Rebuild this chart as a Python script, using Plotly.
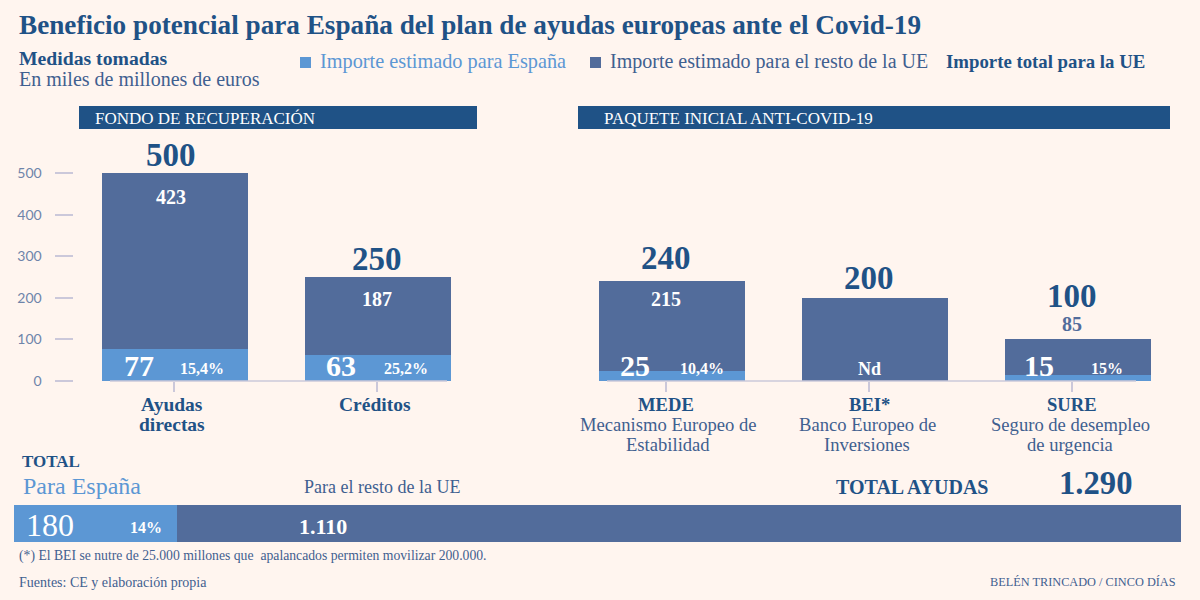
import plotly.graph_objects as go

# --- data ---
left_cats = ["Ayudas<br>directas", "Créditos"]
left_spain = [77, 63]
left_rest = [423, 187]
left_total = [500, 250]
left_pct = ["15,4%", "25,2%"]

right_keys = ["MEDE", "BEI*", "SURE"]
right_desc = ["Mecanismo Europeo de<br>Estabilidad", "Banco Europeo de<br>Inversiones", "Seguro de desempleo<br>de urgencia"]
right_spain = [25, 0, 15]
right_rest = [215, 200, 85]
right_total = [240, 200, 100]
right_pct = ["10,4%", "", "15%"]
right_rest_labels = ["215", "Nd", "85"]

total_spain = 180
total_rest = 1110
total_all = 1290
total_pct = "14%"
y_ticks = [0, 100, 200, 300, 400, 500]

# --- style ---
BG = "#fff5ef"
NAVY = "#1f5286"
MID = "#526c9b"
LIGHT = "#5c97d4"
TXT = "#3f6090"
TICK = "#cbc8da"
AXT = "#6e84aa"
F = "Liberation Serif"
PAPER_H = 592  # drawn paper height seen in the rendered page

def es(n):
    return f"{n:,}".replace(",", ".")

def px(x): return x / 1200
def py(y): return 1 - y / PAPER_H

fig = go.Figure()
for xa, ya, cats, sp, re in [("x", "y", left_cats, left_spain, left_rest),
                             ("x2", "y2", right_keys, right_spain, right_rest)]:
    fig.add_bar(x=cats, y=sp, xaxis=xa, yaxis=ya, marker=dict(color=LIGHT, line_width=0),
                name="Importe estimado para España", hoverinfo="x+y")
    fig.add_bar(x=cats, y=re, xaxis=xa, yaxis=ya, marker=dict(color=MID, line_width=0),
                name="Importe estimado para el resto de la UE", hoverinfo="x+y")
fig.add_bar(y=["Total"], x=[total_spain], orientation="h", xaxis="x3", yaxis="y3",
            marker=dict(color=LIGHT, line_width=0), name="Para España")
fig.add_bar(y=["Total"], x=[total_rest], orientation="h", xaxis="x3", yaxis="y3",
            marker=dict(color=MID, line_width=0), name="Para el resto de la UE")

ann = []
def text(t, x, y, size, color=TXT, bold=False, anchor="left"):
    ann.append(dict(text=f"<b>{t}</b>" if bold else t, x=px(x), y=py(y), xref="paper", yref="paper",
                    xanchor=anchor, yanchor="middle", showarrow=False,
                    font=dict(family=F, size=size, color=color)))

def val(t, xa, ya, cat, y, dx, dy, size, color="white", bold=False):
    ann.append(dict(text=f"<b>{t}</b>" if bold else t, x=cat, y=y, xref=xa, yref=ya, xshift=dx, yshift=dy,
                    xanchor="center", yanchor="middle", showarrow=False,
                    font=dict(family=F, size=size, color=color)))

# header texts
text("Beneficio potencial para España del plan de ayudas europeas ante el Covid-19", 17, 25, 27.2, NAVY, True)
text("Medidas tomadas", 17, 58, 19.7, NAVY, True)
text("En miles de millones de euros", 17, 79, 20, TXT)
text("Importe estimado para España", 318, 62, 20.3, LIGHT)
text("Importe estimado para el resto de la UE", 608, 61, 20, TXT)
text("Importe total para la UE", 944, 61, 18.8, NAVY, True)
text("FONDO DE RECUPERACIÓN", 93, 118, 17, "white")
text("PAQUETE INICIAL ANTI-COVID-19", 602, 118, 17, "white")

# data labels
for c, s, r, t, p, dx0, dxs, dxp, dyr in zip(left_cats, left_spain, left_rest, left_total, left_pct,
                                             [-4, -1], [-36, -37], [27, 28], [-24, -22]):
    val(t, "x", "y", c, t, dx0, 18, 33, NAVY, True)
    val(r, "x", "y", c, t, dx0, dyr, 20, "white", True)
    val(s, "x", "y", c, 0, dxs, 16, 30, "white", True)
    val(p, "x", "y", c, 0, dxp, 13, 16, "white", True)
for c, s, lab, t, p, dxs, dxp, dyt, dyr, col in zip(right_keys, right_spain, right_rest_labels, right_total, right_pct,
                                                     [-37, 0, -39], [30, 0, 29], [23, 20, 43], [-18, 0, 15],
                                                     ["white", "white", MID]):
    val(t, "x2", "y2", c, t, -6, dyt, 33, NAVY, True)
    if lab == "Nd":
        val(lab, "x2", "y2", c, 0, -6, 12, 18, col, True)
    else:
        val(lab, "x2", "y2", c, t, -6, dyr, 20, col, True)
    if s:
        val(s, "x2", "y2", c, 0, dxs, 16, 30, "white", True)
        val(p, "x2", "y2", c, 0, dxp, 13, 16, "white", True)

# category labels, one annotation per line for the tight line spacing
for c in left_cats:
    for i, line in enumerate(c.split("<br>")):
        ann.append(dict(text=f"<b>{line}</b>", x=c, y=0, xref="x", yref="y", xshift=-3, yshift=-23 - 20 * i,
                        xanchor="center", yanchor="middle", showarrow=False,
                        font=dict(family=F, size=19.5, color=NAVY)))
for k, d, dx in zip(right_keys, right_desc, [-4, -8, -8]):
    ann.append(dict(text=f"<b>{k}</b>", x=k, y=0, xref="x2", yref="y2", xshift=-6, yshift=-23,
                    xanchor="center", yanchor="middle", showarrow=False,
                    font=dict(family=F, size=18.6, color=NAVY)))
    for i, line in enumerate(d.split("<br>")):
        ann.append(dict(text=line, x=k, y=0, xref="x2", yref="y2", xshift=dx, yshift=-43 - 20 * i,
                        xanchor="center", yanchor="middle", showarrow=False,
                        font=dict(family=F, size=18.6, color=TXT)))

# total section
text("TOTAL", 20, 461, 17, NAVY, True)
text("Para España", 21, 486, 24, LIGHT)
text("Para el resto de la UE", 302, 487, 18, TXT)
text("TOTAL AYUDAS", 912, 487, 20, NAVY, True, "center")
text(es(total_all), 1096, 483, 32.7, NAVY, True, "center")
text(es(total_spain), 50, 525, 32, "white", False, "center")
text(total_pct, 146, 527, 16, "white", True, "center")
text(es(total_rest), 323, 526, 22, "white", True, "center")

# footer
text("(*) El BEI se nutre de 25.000 millones que  apalancados permiten movilizar 200.000.", 17, 556, 13.7, TXT)
text("Fuentes: CE y elaboración propia", 17, 582, 14, TXT)
text("BELÉN TRINCADO / CINCO DÍAS", 1178, 582, 12.3, TXT, False, "right")

def rect(x0, y0, x1, y1, color):
    return dict(type="rect", xref="paper", yref="paper", x0=px(x0), x1=px(x1), y0=py(y0), y1=py(y1),
                fillcolor=color, line_width=0, layer="below")

shapes = [rect(79, 106, 477, 129, NAVY), rect(578, 106, 1170, 129, NAVY),
          rect(300, 57, 311, 68, LIGHT), rect(590, 57, 601, 68, MID),
          dict(type="line", xref="paper", yref="paper", x0=px(110), x1=px(447), y0=py(381), y1=py(381),
               line=dict(color=TICK, width=1.5), layer="above"),
          dict(type="line", xref="paper", yref="paper", x0=px(607), x1=px(1136), y0=py(381), y1=py(381),
               line=dict(color=TICK, width=1.5), layer="above")]

y_dom = [py(381), py(131.4)]

fig.update_layout(
    width=1200, height=600, margin=dict(l=0, r=0, t=0, b=0), autosize=False,
    paper_bgcolor=BG, plot_bgcolor="rgba(0,0,0,0)", barmode="stack", bargap=0.28, showlegend=False,
    font=dict(family=F), annotations=ann, shapes=shapes,
    xaxis=dict(domain=[px(73.5), px(479.5)], anchor="y", type="category", categoryorder="array",
               categoryarray=left_cats, tickmode="array", tickvals=[-0.007, 0.995], ticktext=["", ""],
               ticks="outside", ticklen=10, tickcolor=TICK, tickwidth=1.5, showline=False, showgrid=False,
               zeroline=False),
    yaxis=dict(domain=y_dom, range=[0, 600], anchor="x", tickmode="array", tickvals=y_ticks,
               ticks="outside", ticklen=18, tickcolor=TICK, tickwidth=1.5, showgrid=False, zeroline=False,
               showline=False, ticklabelstandoff=10, tickfont=dict(family="Lato", size=14, color=AXT)),
    xaxis2=dict(domain=[px(570.5), px(1179.5)], anchor="y2", type="category", categoryorder="array",
                categoryarray=right_keys, tickmode="array", tickvals=[-0.03, 0.97, 1.97], ticktext=["", "", ""],
                ticks="outside", ticklen=10, tickcolor=TICK, tickwidth=1.5, showline=False, showgrid=False,
                zeroline=False),
    yaxis2=dict(domain=y_dom, range=[0, 600], visible=False, fixedrange=True, anchor="x2"),
    xaxis3=dict(domain=[px(14), px(1181)], range=[0, total_all], anchor="y3", visible=False, fixedrange=True),
    yaxis3=dict(domain=[py(542), py(505)], anchor="x3", visible=False, fixedrange=True),
)
fig.update_traces(selector=dict(xaxis="x3"), width=1)
post = (f"document.body.style.margin='0';document.body.style.background='{BG}';"
        "document.documentElement.style.overflow='hidden';")
fig.write_html("out.html", post_script=post, config={"displayModeBar": False})
